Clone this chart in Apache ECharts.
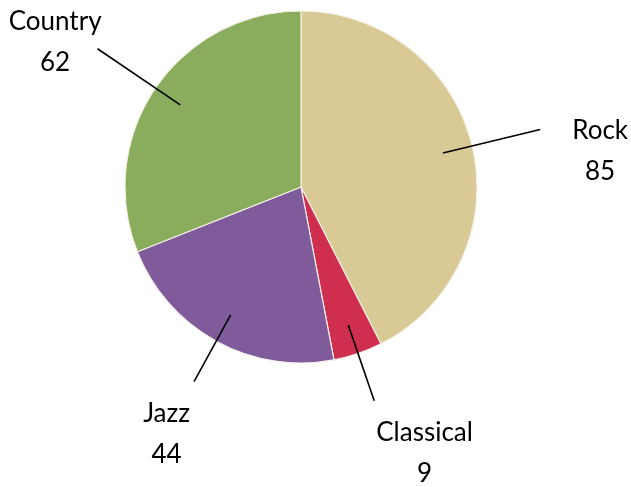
<!DOCTYPE html>
<html>
<head>
<meta charset="utf-8">
<script src="https://cdn.jsdelivr.net/npm/echarts@6/dist/echarts.min.js"></script>
<style>
html,body{margin:0;padding:0;background:#fff;}
#chart{width:631px;height:487px;}
</style>
</head>
<body>
<div id="chart"></div>
<script>
// Data
var categories = ['Rock', 'Classical', 'Jazz', 'Country'];
var values = [85, 9, 44, 62];
var colors = ['#d9c994', '#cf2e4e', '#7f5b9c', '#89ad5c'];

// Label layout tweaks (line length, gap, vertical padding)
var labelTweaks = {
  Rock:      { len: 100, dist: 32, pt: 43, pb: 0 },
  Classical: { len: 80,  dist: 2,  pt: 104, pb: 0 },
  Jazz:      { len: 76,  dist: 4,  pt: 105, pb: 0 },
  Country:   { len: 100, dist: -4, pt: 0, pb: 13 }
};

var center = [301, 187];

var pieData = categories.map(function (c, i) {
  return { name: c, value: values[i], itemStyle: { color: colors[i] } };
});

var labelData = categories.map(function (c, i) {
  var t = labelTweaks[c];
  return {
    name: c,
    value: values[i],
    label: { distanceToLabelLine: t.dist, padding: [t.pt, 0, t.pb, 0] },
    labelLine: { length: t.len, length2: 0 }
  };
});

var chart = echarts.init(document.getElementById('chart'), null, { renderer: 'canvas' });
chart.setOption({
  animation: false,
  backgroundColor: '#ffffff',
  series: [
    {
      type: 'pie',
      z: 1,
      center: center,
      radius: [0, 176],
      startAngle: 90,
      clockwise: true,
      silent: true,
      label: { show: false },
      labelLine: { show: false },
      itemStyle: { borderColor: '#f4f0e6', borderWidth: 1.2 },
      data: pieData
    },
    {
      type: 'pie',
      z: 5,
      center: center,
      radius: [0, 146],
      startAngle: 90,
      clockwise: true,
      silent: true,
      avoidLabelOverlap: false,
      itemStyle: { color: 'rgba(0,0,0,0)', borderWidth: 0 },
      label: {
        show: true,
        position: 'outer',
        alignTo: 'none',
        bleedMargin: 0,
        formatter: function (p) {
          return '{t|' + p.name + '}\n{t|' + p.value + '}';
        },
        rich: {
          t: { fontFamily: 'Lato', fontSize: 26, lineHeight: 41, color: '#000', align: 'center' }
        }
      },
      labelLine: {
        show: true,
        smooth: false,
        lineStyle: { color: '#000', width: 1.6 }
      },
      data: labelData
    }
  ]
});
</script>
</body>
</html>
